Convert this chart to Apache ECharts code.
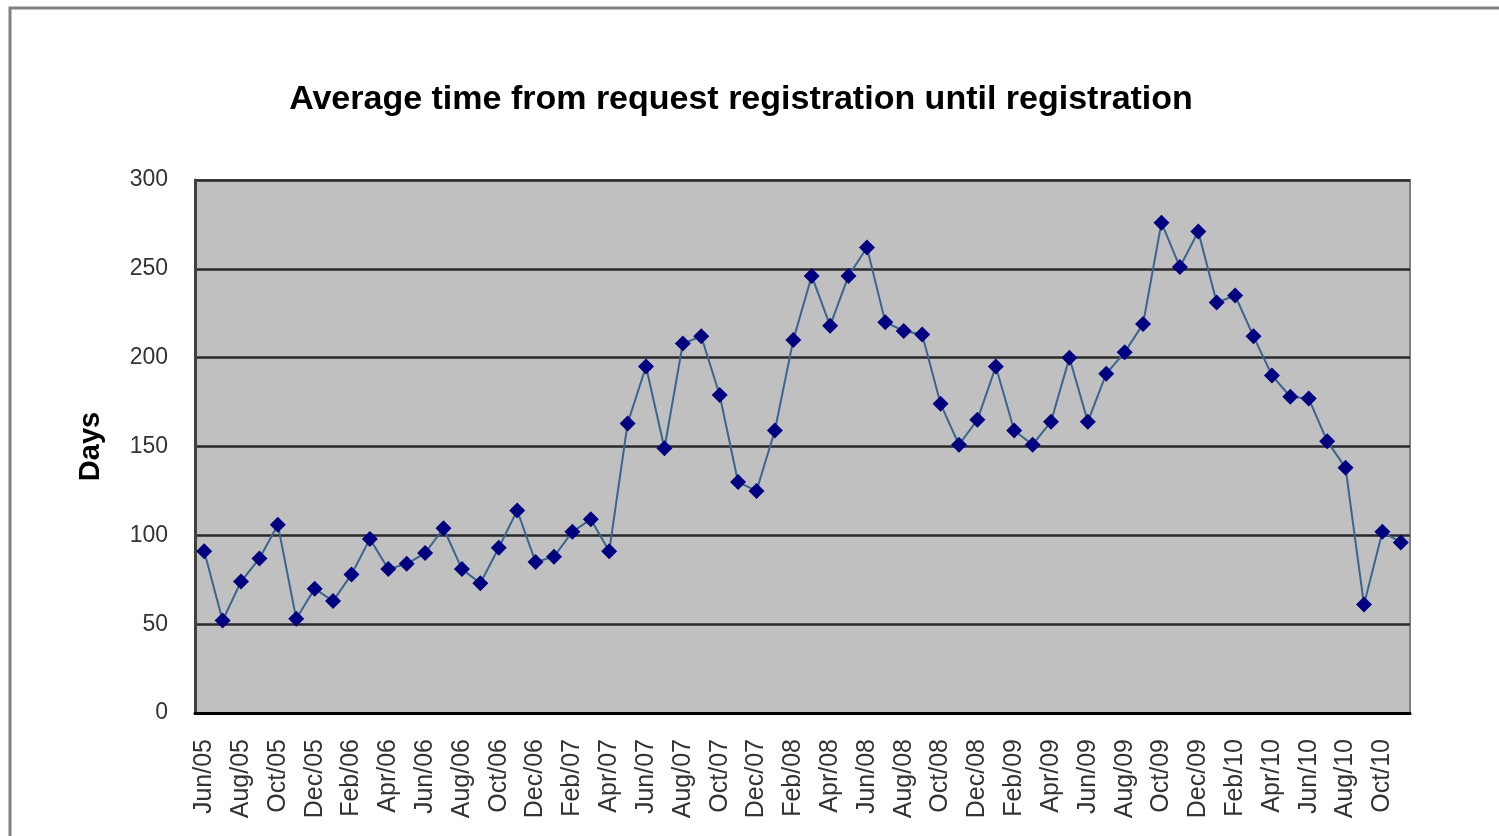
<!DOCTYPE html>
<html>
<head>
<meta charset="utf-8">
<title>Average time from request registration until registration</title>
<script src="https://cdn.jsdelivr.net/npm/echarts@6/dist/echarts.min.js"></script>
<style>
  html, body { margin: 0; padding: 0; background: #fff; }
  #chart { width: 1499px; height: 836px; }
</style>
</head>
<body>
<div id="chart"></div>
<script>
// months, Jun/05 .. Nov/10
const months = [
  'Jun/05', 'Jul/05', 'Aug/05', 'Sep/05', 'Oct/05', 'Nov/05', 'Dec/05',
  'Jan/06', 'Feb/06', 'Mar/06', 'Apr/06', 'May/06', 'Jun/06', 'Jul/06', 'Aug/06', 'Sep/06', 'Oct/06', 'Nov/06', 'Dec/06',
  'Jan/07', 'Feb/07', 'Mar/07', 'Apr/07', 'May/07', 'Jun/07', 'Jul/07', 'Aug/07', 'Sep/07', 'Oct/07', 'Nov/07', 'Dec/07',
  'Jan/08', 'Feb/08', 'Mar/08', 'Apr/08', 'May/08', 'Jun/08', 'Jul/08', 'Aug/08', 'Sep/08', 'Oct/08', 'Nov/08', 'Dec/08',
  'Jan/09', 'Feb/09', 'Mar/09', 'Apr/09', 'May/09', 'Jun/09', 'Jul/09', 'Aug/09', 'Sep/09', 'Oct/09', 'Nov/09', 'Dec/09',
  'Jan/10', 'Feb/10', 'Mar/10', 'Apr/10', 'May/10', 'Jun/10', 'Jul/10', 'Aug/10', 'Sep/10', 'Oct/10', 'Nov/10'
];

// average days
const days = [
  91, 52, 74, 87, 106, 53, 70,
  63, 78, 98, 81, 84, 90, 104, 81, 73, 93, 114, 85,
  88, 102, 109, 91, 163, 195, 149, 208, 212, 179, 130, 125,
  159, 210, 246, 218, 246, 262, 220, 215, 213, 174, 151, 165,
  195, 159, 151, 164, 200, 164, 191, 203, 219, 276, 251, 271,
  231, 235, 212, 190, 178, 177, 153, 138, 61, 102, 96
];

const yTicks = { min: 0, max: 300, step: 50 };

const chart = echarts.init(document.getElementById('chart'));

const option = {
  backgroundColor: '#ffffff',
  animation: false,
  textStyle: { fontFamily: 'Liberation Sans, Arial, sans-serif' },
  title: {
    text: 'Average time from request registration until registration',
    left: 736,
    top: 78,
    textAlign: 'center',
    textStyle: { fontSize: 34, fontWeight: 'bold', color: '#000' }
  },
  // outer chart frame, cut off at right and bottom
  graphic: [{
    type: 'rect',
    shape: { x: 10, y: 8, width: 1600, height: 1000 },
    style: { fill: 'none', stroke: '#808080', lineWidth: 3 },
    silent: true
  }],
  grid: {
    left: 195,
    right: 89,
    top: 180,
    bottom: 123,
    show: true,
    backgroundColor: '#c0c0c0',
    borderColor: '#808080',
    borderWidth: 2
  },
  xAxis: {
    type: 'category',
    data: months,
    boundaryGap: true,
    axisLine: { show: true, lineStyle: { color: '#000', width: 3 } },
    axisTick: { show: false },
    axisLabel: {
      rotate: 90,
      interval: 1,
      margin: 26,
      fontSize: 25,
      color: '#333'
    },
    splitLine: { show: false }
  },
  yAxis: {
    type: 'value',
    min: yTicks.min,
    max: yTicks.max,
    interval: yTicks.step,
    name: 'Days',
    nameLocation: 'middle',
    nameRotate: 90,
    nameGap: 90,
    nameTextStyle: { fontSize: 29, fontWeight: 'bold', color: '#000' },
    axisLine: { show: true, lineStyle: { color: '#404040', width: 3 } },
    axisTick: { show: false },
    axisLabel: { margin: 27, fontSize: 23, color: '#333' },
    splitLine: { lineStyle: { color: '#2a2a2a', width: 2.5 } }
  },
  series: [{
    type: 'line',
    data: days,
    symbol: 'diamond',
    symbolSize: 16,
    showAllSymbol: true,
    lineStyle: { color: '#3a6590', width: 2 },
    itemStyle: { color: '#000080' }
  }]
};

chart.setOption(option);
</script>
</body>
</html>
